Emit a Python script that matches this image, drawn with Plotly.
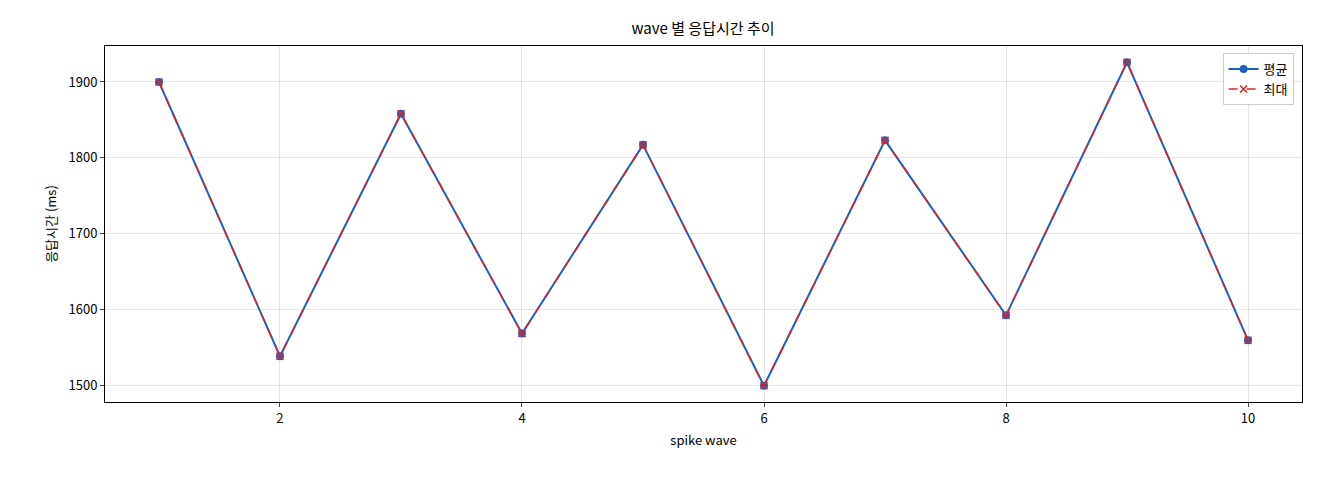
import plotly.graph_objects as go

waves = [1, 2, 3, 4, 5, 6, 7, 8, 9, 10]
avg_ms = [1900, 1538, 1858, 1568, 1817, 1499, 1823, 1592, 1926, 1559]
max_ms = [1900, 1538, 1858, 1568, 1817, 1499, 1823, 1592, 1926, 1559]

fig = go.Figure()
fig.add_trace(go.Scatter(x=waves, y=avg_ms, name="평균", mode="lines+markers",
                         line=dict(color="#1f5fbf", width=2),
                         marker=dict(symbol="circle", size=8, color="#1f5fbf")))
fig.add_trace(go.Scatter(x=waves, y=max_ms, name="최대", mode="lines+markers",
                         line=dict(color="#d62728", width=1.5, dash="dash"),
                         marker=dict(symbol="x-thin", size=7, line=dict(color="#d62728", width=1.5))))

ax = dict(showline=True, linecolor="black", mirror=True, ticks="outside", ticklen=4,
          showgrid=True, gridcolor="rgba(0,0,0,0.1)", zeroline=False,
          tickfont=dict(size=13, color="black"))
fig.update_layout(
    width=1320, height=480, plot_bgcolor="white", paper_bgcolor="white",
    font=dict(family="Noto Sans CJK KR, DejaVu Sans", color="black"),
    title=dict(text="wave 별 응답시간 추이", x=0.5265, xanchor="center",
               y=0.956, yanchor="middle", font=dict(size=15)),
    margin=dict(l=97, r=26, t=38, b=86),
    xaxis=dict(ax, range=[0.554, 10.446], tickvals=[2, 4, 6, 8, 10],
               title=dict(text="spike wave", font=dict(size=13), standoff=10)),
    yaxis=dict(ax, range=[1477.6, 1947.5], tickvals=[1500, 1600, 1700, 1800, 1900],
               title=dict(text="응답시간 (ms)", font=dict(size=13), standoff=8)),
    legend=dict(x=0.993, y=0.98, xanchor="right", yanchor="top", bgcolor="white",
                bordercolor="#cccccc", borderwidth=1, font=dict(size=13)),
)
fig.write_html("out.html")
